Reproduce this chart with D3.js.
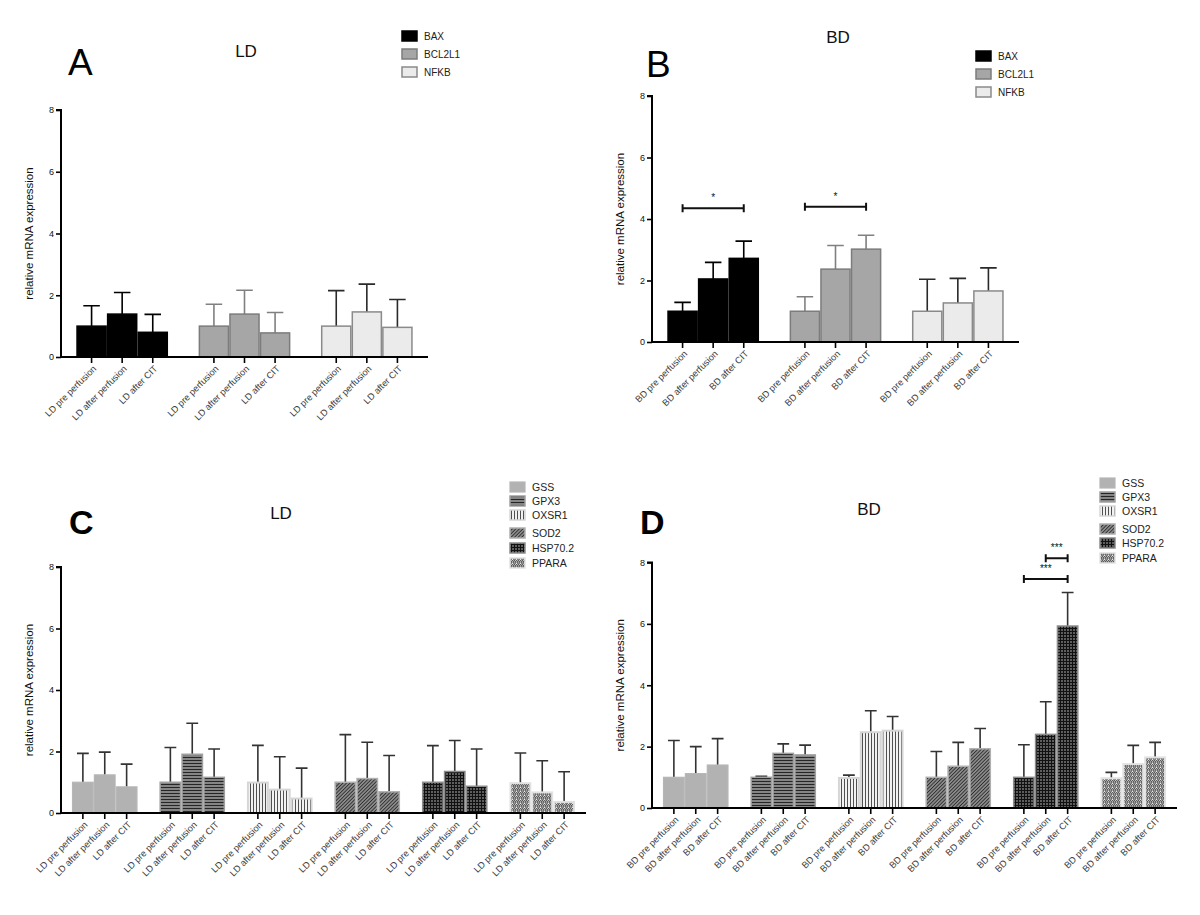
<!DOCTYPE html>
<html><head><meta charset="utf-8">
<script src="https://cdn.jsdelivr.net/npm/d3@7"></script>
<style>
html,body{margin:0;padding:0;background:#fff;}
svg{display:block;font-family:"Liberation Sans",Arial,Helvetica,sans-serif;}
</style></head>
<body>
<svg id="chart" width="1200" height="915"></svg>
<script>
// ---------------- DATA ----------------
const condLD = ["LD pre perfusion", "LD after perfusion", "LD after CIT"];
const condBD = ["BD pre perfusion", "BD after perfusion", "BD after CIT"];
const genesApoptosis = ["BAX", "BCL2L1", "NFKB"];
const genesOxidative = ["GSS", "GPX3", "OXSR1", "SOD2", "HSP70.2", "PPARA"];
const yTickValues = [0, 2, 4, 6, 8];

// Panel A (LD) – mean and SD per gene, per condition
const meanA = [[1.00, 1.39, 0.80], [1.00, 1.39, 0.78], [1.00, 1.46, 0.96]];
const sdA   = [[0.66, 0.70, 0.58], [0.71, 0.77, 0.66], [1.15, 0.90, 0.90]];
// Panel B (BD)
const meanB = [[1.00, 2.05, 2.72], [1.00, 2.37, 3.02], [1.00, 1.27, 1.66]];
const sdB   = [[0.29, 0.54, 0.56], [0.47, 0.77, 0.45], [1.04, 0.80, 0.75]];
// Panel C (LD)
const meanC = [[1.00, 1.24, 0.85], [1.00, 1.91, 1.16], [0.99, 0.76, 0.47],
               [1.00, 1.12, 0.69], [1.00, 1.35, 0.87], [0.97, 0.67, 0.36]];
const sdC   = [[0.94, 0.74, 0.74], [1.13, 1.01, 0.92], [1.21, 1.07, 0.99],
               [1.55, 1.18, 1.18], [1.19, 1.01, 1.21], [0.98, 1.03, 0.98]];
// Panel D (BD)
const meanD = [[1.00, 1.12, 1.40], [1.00, 1.78, 1.73], [0.98, 2.47, 2.52],
               [1.00, 1.36, 1.93], [1.00, 2.40, 5.93], [0.97, 1.43, 1.65]];
const sdD   = [[1.20, 0.88, 0.86], [0.03, 0.31, 0.32], [0.09, 0.70, 0.46],
               [0.84, 0.78, 0.66], [1.06, 1.06, 1.09], [0.19, 0.61, 0.49]];

// significance brackets: gene, from-condition index, to-condition index, level, label
const sigB = [{gene: "BAX", from: 0, to: 2, level: 4.35, label: "*"},
              {gene: "BCL2L1", from: 0, to: 2, level: 4.40, label: "*"}];
const sigD = [{gene: "HSP70.2", from: 0, to: 2, level: 7.46, label: "***"},
              {gene: "HSP70.2", from: 1, to: 2, level: 8.14, label: "***"}];

// ---------------- STYLES ----------------
const svg = d3.select("#chart");
const defs = svg.append("defs");

function pattern(id, w, h, bg, draw, rot) {
  const p = defs.append("pattern").attr("id", id)
    .attr("patternUnits", "userSpaceOnUse").attr("width", w).attr("height", h);
  if (rot) p.attr("patternTransform", `rotate(${rot})`);
  p.append("rect").attr("width", w).attr("height", h).attr("fill", bg);
  draw(p);
}
pattern("pGPX3", 3, 3, "#8a8a8a", p => p.append("line").attr("x1", 0).attr("x2", 3).attr("y1", 1.5).attr("y2", 1.5).attr("stroke", "#262626").attr("stroke-width", 1.1));
pattern("pOXSR1", 3, 3, "#f2f2f2", p => p.append("line").attr("y1", 0).attr("y2", 3).attr("x1", 1.5).attr("x2", 1.5).attr("stroke", "#505050").attr("stroke-width", 1));
pattern("pSOD2", 2.5, 2.5, "#8e8e8e", p => p.append("line").attr("y1", -1).attr("y2", 4).attr("x1", 1.25).attr("x2", 1.25).attr("stroke", "#2c2c2c").attr("stroke-width", 0.9), 45);
pattern("pHSP", 3, 3, "#5e5e5e", p => {
  p.append("line").attr("x1", 0).attr("x2", 3).attr("y1", 1.5).attr("y2", 1.5).attr("stroke", "#111").attr("stroke-width", 1);
  p.append("line").attr("y1", 0).attr("y2", 3).attr("x1", 1.5).attr("x2", 1.5).attr("stroke", "#111").attr("stroke-width", 1);
});
pattern("pPPARA", 4, 4, "#ededed", p => {
  p.append("path").attr("d", "M0,0 L1.5,1.5 L1,2.5 L2.5,4 M2,0 L3.5,1.5 L3,2.5 L4.5,4").attr("fill", "none").attr("stroke", "#555").attr("stroke-width", 1.1);
}, 0);

const styleAB = {
  BAX:    {fill: "#000000", stroke: "#000000", err: "#000000", sw: 1.5},
  BCL2L1: {fill: "#a6a6a6", stroke: "#7c7c7c", err: "#808080", sw: 1.5},
  NFKB:   {fill: "#ebebeb", stroke: "#8a8a8a", err: "#2a2a2a", sw: 1.5}
};
const styleCD = {
  "GSS":     {fill: "#b2b2b2", stroke: "#b6b6b6", err: "#333", sw: 1.2},
  "GPX3":    {fill: "url(#pGPX3)", stroke: "#a0a0a0", err: "#333", sw: 1.5},
  "OXSR1":   {fill: "url(#pOXSR1)", stroke: "#d6d6d6", err: "#333", sw: 2},
  "SOD2":    {fill: "url(#pSOD2)", stroke: "#b0b0b0", err: "#333", sw: 1.5},
  "HSP70.2": {fill: "url(#pHSP)", stroke: "#8c8c8c", err: "#333", sw: 1.5},
  "PPARA":   {fill: "url(#pPPARA)", stroke: "#e2e2e2", err: "#333", sw: 2}
};

// ---------------- DRAW ----------------
function drawPanel(c) {
  const g = svg.append("g");
  const y = d3.scaleLinear().domain([0, 8]).range([c.yBottom, c.yTop]);
  const xg = d3.scaleBand().domain(c.genes).range([c.x0, c.x1])
    .paddingInner(0.25).paddingOuter(0.125);
  const xc = d3.scaleBand().domain(d3.range(3)).range([0, xg.bandwidth()]).padding(0);
  const bw = xc.bandwidth();

  const rows = [];
  c.genes.forEach((gene, gi) => {
    c.means[gi].forEach((m, ci) => rows.push({gene, gi, ci, m, sd: c.sds[gi][ci]}));
  });
  const cx = d => xg(d.gene) + xc(d.ci) + bw / 2;

  // error bars (upper only)
  g.selectAll(".err").data(rows).join("path")
    .attr("d", d => `M${cx(d)},${y(d.m)}V${y(d.m + d.sd)}M${cx(d) - bw * 0.27},${y(d.m + d.sd)}H${cx(d) + bw * 0.27}`)
    .attr("stroke", d => c.styles[d.gene].err).attr("stroke-width", 1.6).attr("fill", "none");

  // bars
  g.selectAll(".bar").data(rows).join("rect")
    .attr("x", d => xg(d.gene) + xc(d.ci) + c.styles[d.gene].sw / 2)
    .attr("width", d => bw - c.styles[d.gene].sw)
    .attr("y", d => y(d.m))
    .attr("height", d => y(0) - y(d.m))
    .attr("fill", d => c.styles[d.gene].fill)
    .attr("stroke", d => c.styles[d.gene].stroke)
    .attr("stroke-width", d => c.styles[d.gene].sw);

  // y axis
  const ya = g.append("g").attr("transform", `translate(${c.x0},0)`)
    .call(d3.axisLeft(y).tickValues(yTickValues).tickFormat(d3.format("d")).tickSize(5).tickPadding(2));
  ya.select(".domain").attr("stroke-width", 2).attr("d", `M-5,${y(8)}H0V${y(0)}`);
  ya.selectAll(".tick line").attr("stroke-width", 1.6);
  ya.selectAll(".tick text").attr("font-size", 9).attr("font-family", "Liberation Sans, Arial, sans-serif").attr("fill", "#111");

  // x axis line
  g.append("line").attr("x1", c.x0 - 1).attr("x2", c.x1).attr("y1", y(0)).attr("y2", y(0))
    .attr("stroke", "#000").attr("stroke-width", 2);
  // x ticks and labels
  g.selectAll(".xt").data(rows).join("line")
    .attr("x1", cx).attr("x2", cx).attr("y1", y(0)).attr("y2", y(0) + 6)
    .attr("stroke", "#000").attr("stroke-width", 1.6);
  g.selectAll(".xl").data(rows).join("text")
    .attr("transform", d => `translate(${cx(d) + 3},${y(0) + 10}) rotate(-45)`)
    .attr("text-anchor", "end").attr("dy", "0.35em")
    .attr("font-size", 9.2).attr("fill", "#404040")
    .text(d => c.conds[d.ci]);

  // y-axis title
  g.append("text")
    .attr("transform", `translate(${c.x0 - 28},${(y(0) + y(8)) / 2}) rotate(-90)`)
    .attr("text-anchor", "middle").attr("font-size", 11.5).attr("fill", "#111")
    .text("relative mRNA expression");

  // title and panel letter
  g.append("text").attr("x", c.titleX).attr("y", c.titleY).attr("text-anchor", "middle")
    .attr("font-size", 17).attr("fill", "#111").text(c.title);
  g.append("text").attr("x", c.letterX).attr("y", c.letterY)
    .attr("font-size", c.letterSize).attr("font-weight", c.letterBold ? "bold" : "normal")
    .attr("fill", "#000").text(c.letter);

  // legend
  const lg = g.append("g");
  c.genes.forEach((gene, i) => {
    const st = c.styles[gene];
    const ly = c.legendYs[i];
    lg.append("rect").attr("x", c.legendX + 1).attr("y", ly - 5).attr("width", 15).attr("height", 10)
      .attr("fill", st.fill).attr("stroke", st.stroke).attr("stroke-width", Math.min(st.sw, 1.5));
    lg.append("text").attr("x", c.legendX + 23).attr("y", ly).attr("dy", "0.35em")
      .attr("font-size", c.legendFont).attr("fill", "#222").text(gene);
  });

  // significance brackets
  (c.sig || []).forEach(s => {
    const xa = xg(s.gene) + xc(s.from) + bw / 2;
    const xb = xg(s.gene) + xc(s.to) + bw / 2;
    const yy = y(s.level);
    g.append("path").attr("d", `M${xa},${yy - 4}V${yy + 4}M${xa},${yy}H${xb}M${xb},${yy - 4}V${yy + 4}`)
      .attr("stroke", "#111").attr("stroke-width", 2).attr("fill", "none");
    g.append("text").attr("x", (xa + xb) / 2).attr("y", yy - 7).attr("text-anchor", "middle")
      .attr("font-size", 10).attr("fill", "#111").text(s.label);
  });
}

drawPanel({genes: genesApoptosis, conds: condLD, means: meanA, sds: sdA, styles: styleAB,
  x0: 61, x1: 428, yTop: 110, yBottom: 357,
  title: "LD", titleX: 246, titleY: 57, letter: "A", letterX: 68, letterY: 75, letterSize: 37, letterBold: false,
  legendX: 401, legendYs: [36, 54, 72], legendFont: 10});
drawPanel({genes: genesApoptosis, conds: condBD, means: meanB, sds: sdB, styles: styleAB,
  x0: 652, x1: 1019, yTop: 96, yBottom: 342,
  title: "BD", titleX: 838, titleY: 43, letter: "B", letterX: 646, letterY: 77, letterSize: 37, letterBold: false,
  legendX: 975, legendYs: [56, 74, 92], legendFont: 10, sig: sigB});
drawPanel({genes: genesOxidative, conds: condLD, means: meanC, sds: sdC, styles: styleCD,
  x0: 61, x1: 586, yTop: 567, yBottom: 813,
  title: "LD", titleX: 281, titleY: 519, letter: "C", letterX: 69, letterY: 534, letterSize: 34, letterBold: true,
  legendX: 509, legendYs: [487, 501, 515, 533, 548, 563], legendFont: 10.5});
drawPanel({genes: genesOxidative, conds: condBD, means: meanD, sds: sdD, styles: styleCD,
  x0: 652, x1: 1177, yTop: 562.5, yBottom: 808,
  title: "BD", titleX: 869, titleY: 515, letter: "D", letterX: 640, letterY: 534, letterSize: 34, letterBold: true,
  legendX: 1099, legendYs: [483, 497, 511, 529, 543, 558], legendFont: 10.5, sig: sigD});
</script>
</body></html>
